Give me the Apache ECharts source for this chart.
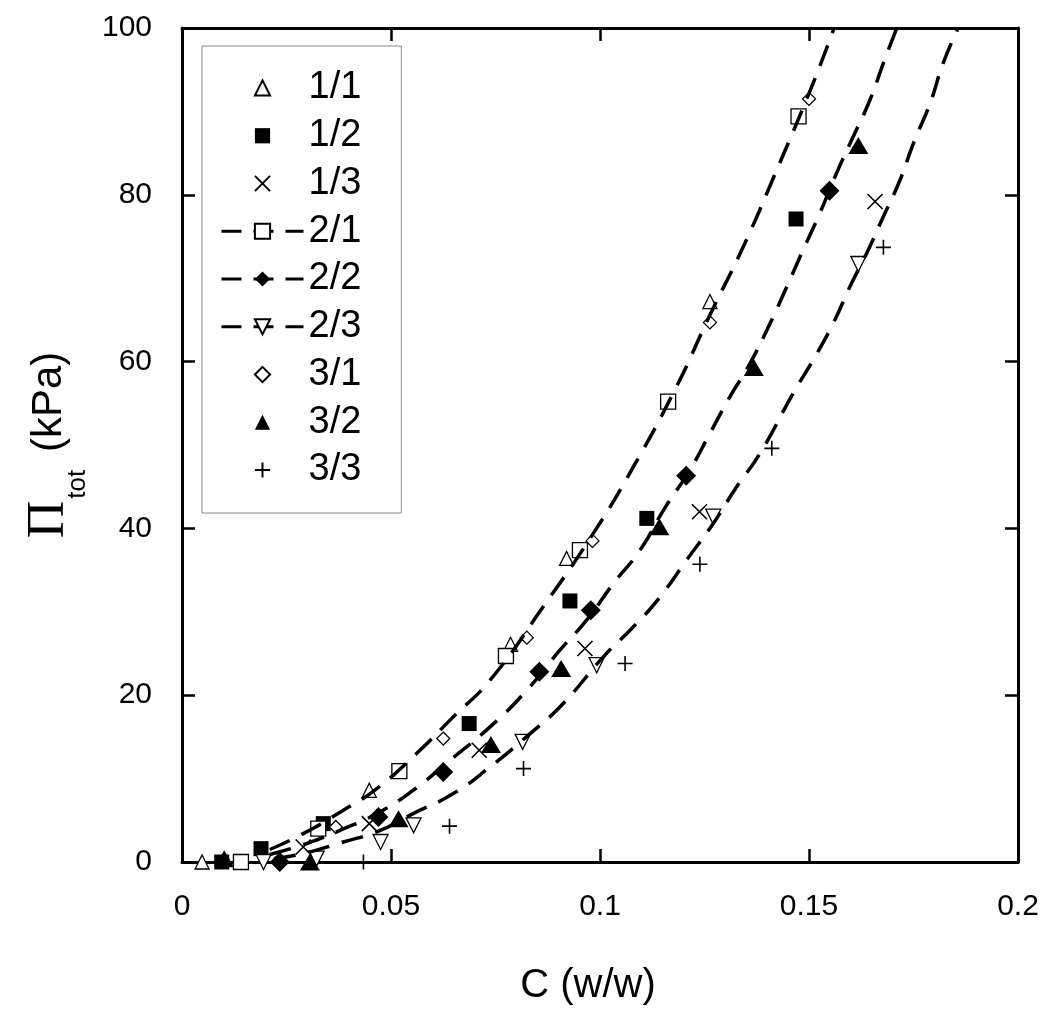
<!DOCTYPE html>
<html><head><meta charset="utf-8">
<script src="https://cdn.jsdelivr.net/npm/echarts@6/dist/echarts.min.js"></script>
<style>html,body{margin:0;padding:0;background:#fff}#c{width:1050px;height:1026px}</style>
</head><body><div id="c"></div>
<script>
// ---- tick labels ----
const xTickLabels = ['0', '0.05', '0.1', '0.15', '0.2'];
const yTickLabels = ['0', '20', '40', '60', '80', '100'];

// ---- data series: [C (w/w), Pi_tot (kPa)] ----
const s11 = [[0.0048,0],[0.0448,8.6],[0.0786,26.1],[0.0920,36.4],[0.1263,67.2]];
const s12 = [[0.0095,0],[0.0189,1.6],[0.0338,4.6],[0.0687,16.6],[0.0928,31.3],[0.1112,41.2],[0.1469,77.1]];
const s13 = [[0.0290,1.8],[0.0448,4.6],[0.0711,13.4],[0.0964,25.6],[0.1238,42.0],[0.1658,79.2]];
const s21 = [[0.0141,0],[0.0326,4.0],[0.0520,10.9],[0.0775,24.7],[0.0952,37.4],[0.1163,55.2],[0.1475,89.4]];
const s22 = [[0.0234,0],[0.0470,5.4],[0.0625,10.8],[0.0855,22.8],[0.0978,30.2],[0.1206,46.3],[0.1549,80.5]];
const s23 = [[0.0195,0],[0.0322,0.4],[0.0475,2.4],[0.0554,4.4],[0.0815,14.4],[0.0992,23.6],[0.1271,41.4],[0.1618,71.7]];
const s31 = [[0.0368,4.2],[0.0625,14.8],[0.0825,26.9],[0.0982,38.5],[0.1263,64.7],[0.1500,91.5]];
const s32 = [[0.0101,0.4],[0.0306,0],[0.0518,5.2],[0.0739,14.1],[0.0907,23.2],[0.1142,40.2],[0.1368,59.3],[0.1618,85.9]];
const s33 = [[0.0434,0],[0.0640,4.3],[0.0817,11.2],[0.1060,23.8],[0.1239,35.7],[0.1411,49.6],[0.1678,73.7]];

// ---- fitted curves ----
const fitA = [[0.021,1.5],[0.029,3.4],[0.0386,6.2],[0.0466,8.8],[0.0561,13.0],[0.0649,17.4],[0.0737,21.8],[0.0864,30.6],[0.0984,39.4],[0.108,47.4],[0.1183,57.0],[0.1263,65.6],[0.1343,73.8],[0.1423,83.0],[0.151,93.4],[0.156,100]];
const fitB = [[0.021,0.9],[0.0298,2.2],[0.0378,3.8],[0.0466,5.8],[0.0553,8.6],[0.0641,12.2],[0.0737,16.2],[0.0825,20.6],[0.0904,25.4],[0.0968,29.0],[0.1032,33.4],[0.1096,37.4],[0.1152,42.2],[0.1215,47.0],[0.1263,51.4],[0.1311,55.8],[0.1359,59.8],[0.1407,64.6],[0.1447,69.0],[0.1486,73.4],[0.1526,77.8],[0.1566,82.6],[0.1606,87.0],[0.1646,91.4],[0.1678,95.8],[0.171,100]];
const fitC = [[0.022,0.4],[0.029,1.0],[0.0386,2.4],[0.047,3.7],[0.0553,5.8],[0.0649,8.2],[0.0737,11.4],[0.0833,15.4],[0.0912,19.0],[0.1008,24.6],[0.108,28.2],[0.1144,31.8],[0.1207,36.2],[0.1271,40.6],[0.1327,45.0],[0.1383,49.0],[0.1462,56.2],[0.151,60.2],[0.1558,64.6],[0.1598,69.0],[0.1638,73.0],[0.1678,77.4],[0.1718,81.8],[0.175,86.2],[0.179,91.0],[0.1821,95.8],[0.1857,100]];

const FONT = 'Liberation Sans';
const X_PATH = 'path://M0,0L10,10M10,0L0,10';
const PLUS_PATH = 'path://M5,0L5,10M0,5L10,5';
const openStyle = {color:'#fff', borderColor:'#000', borderWidth:1.3, opacity:1};
const fillStyle = {color:'#000', borderColor:'#000', borderWidth:0, opacity:1};
const strokeStyle = {color:'#000', borderColor:'#000', borderWidth:1.6, opacity:1};
const legendLine = {color:'#000', width:3, type:[20,12], opacity:1};
const noLine = {opacity:0, width:0.01};
const fitLine = {color:'#000', width:3.5, type:[22,13]};

// marker series are drawn as line series with an invisible connecting line,
// so every legend icon keeps the marker's own proportions
function markers(name, data, symbol, size, style, extra) {
  return Object.assign({name, type:'line', data, symbol, symbolSize:size, showSymbol:true, symbolKeepAspect:true,
    itemStyle:style, lineStyle:noLine, z:2, emphasis:{disabled:true}, silent:true}, extra||{});
}
function fit(name, data) {
  return {name, type:'line', data, smooth:true, symbol:'none', lineStyle:fitLine, z:3, silent:true};
}

const chart = echarts.init(document.getElementById('c'), null, {renderer:'canvas'});
const axisLineStyle = {color:'#000', width:3};
const tickStyle = {color:'#000', width:2.5};
chart.setOption({
  animation:false,
  backgroundColor:'#fff',
  grid:{left:182, top:28, right:32, bottom:164, containLabel:false},
  xAxis:[{
    type:'value', min:0, max:0.2, interval:0.05, position:'bottom',
    axisLine:{show:true, onZero:false, lineStyle:axisLineStyle},
    axisTick:{show:true, inside:true, length:13, lineStyle:tickStyle},
    splitLine:{show:false},
    axisLabel:{formatter:(v,i)=>xTickLabels[i], fontSize:30, fontFamily:FONT, color:'#000', margin:30},
    name:'C (w/w)', nameLocation:'middle', nameGap:104,
    nameTextStyle:{fontSize:40, fontFamily:FONT, color:'#000', padding:[0,24,0,0]}
  },{
    type:'value', min:0, max:0.2, interval:0.05, position:'top',
    axisLine:{show:true, onZero:false, lineStyle:axisLineStyle},
    axisTick:{show:true, inside:true, length:13, lineStyle:tickStyle},
    splitLine:{show:false}, axisLabel:{show:false}
  }],
  yAxis:[{
    type:'value', min:0, max:100, interval:20, position:'left',
    axisLine:{show:true, onZero:false, lineStyle:axisLineStyle},
    axisTick:{show:true, inside:true, length:13, lineStyle:tickStyle},
    splitLine:{show:false},
    axisLabel:{formatter:(v,i)=>yTickLabels[i], fontSize:30, fontFamily:FONT, color:'#000', margin:30},
    name:'{pi|\u03A0}{sub|tot}{n| (kPa)}', nameLocation:'middle', nameGap:86,
    nameTextStyle:{color:'#000',
      rich:{
        pi:{fontFamily:'Liberation Serif', fontSize:52, color:'#000'},
        sub:{fontFamily:FONT, fontSize:26, color:'#000', padding:[58,6,0,2]},
        n:{fontFamily:FONT, fontSize:42, color:'#000'}
      }}
  },{
    type:'value', min:0, max:100, interval:20, position:'right',
    axisLine:{show:true, onZero:false, lineStyle:axisLineStyle},
    axisTick:{show:true, inside:true, length:13, lineStyle:tickStyle},
    splitLine:{show:false}, axisLabel:{show:false}
  }],
  legend:{
    orient:'vertical', left:202, top:46, itemWidth:82, itemHeight:19, itemGap:9.75,
    padding:[23,40,24,18], borderColor:'#888', borderWidth:1, backgroundColor:'#fff',
    selectedMode:false, symbolKeepAspect:true,
    textStyle:{fontSize:38, fontFamily:FONT, color:'#000', lineHeight:38},
    data:[
      {name:'1/1', lineStyle:noLine},{name:'1/2', lineStyle:noLine},{name:'1/3', lineStyle:noLine},
      {name:'2/1', lineStyle:legendLine},
      {name:'2/2', lineStyle:legendLine},
      {name:'2/3', lineStyle:legendLine},
      {name:'3/1', lineStyle:noLine},{name:'3/2', lineStyle:noLine},{name:'3/3', lineStyle:noLine}
    ]
  },
  series:[
    markers('1/1', s11, 'triangle', 14, openStyle),
    markers('1/2', s12, 'rect', 15, fillStyle),
    markers('1/3', s13, X_PATH, 15, strokeStyle),
    markers('2/1', s21, 'rect', 15, openStyle),
    markers('2/2', s22, 'diamond', 20, fillStyle),
    markers('2/3', s23, 'triangle', 15, openStyle, {symbolRotate:180}),
    markers('3/1', s31, 'diamond', 13, openStyle),
    markers('3/2', s32, 'triangle', [20,17], fillStyle),
    markers('3/3', s33, PLUS_PATH, 15, strokeStyle),
    fit('fitA', fitA),
    fit('fitB', fitB),
    fit('fitC', fitC)
  ]
});
</script></body></html>
